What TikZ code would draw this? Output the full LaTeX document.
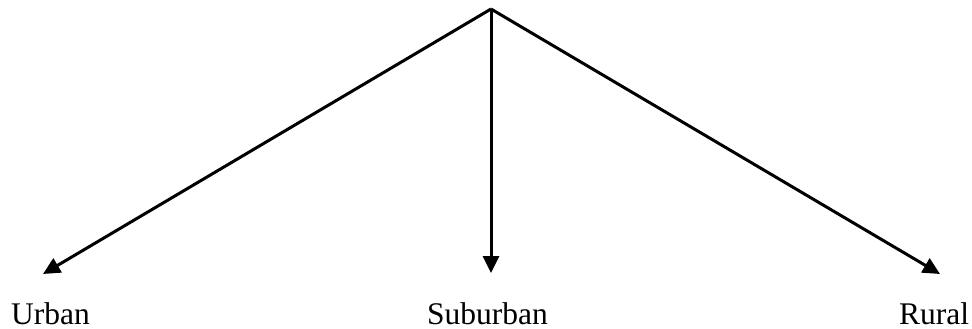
\documentclass[tikz,border=0pt]{standalone}
\usepackage{fontspec}
\setmainfont{Liberation Serif}
\usetikzlibrary{arrows.meta}
\begin{document}
\begin{tikzpicture}[x=1pt,y=-1pt,
  branch/.style={line width=3pt,-{Triangle[length=17pt,width=16pt]}},
  place/.style={anchor=base west,inner sep=0pt,font=\fontsize{31.5}{36}\selectfont}]
  \useasboundingbox (0,0) rectangle (972,329);
  % apex and arrow tips
  \coordinate (apex) at (491,9);
  \coordinate (urbantip) at (43,274);
  \coordinate (subtip) at (491,273);
  \coordinate (ruraltip) at (940,274);
  % labels
  \node[place] (urban) at (11,324) {Urban};
  \node[place] (suburban) at (427,324) {Suburban};
  \node[place] (rural) at (899,324) {Rural};
  % branches
  \draw[branch] (apex) -- (urbantip);
  \draw[branch] (apex) -- (subtip);
  \draw[branch] (apex) -- (ruraltip);
\end{tikzpicture}
\end{document}
